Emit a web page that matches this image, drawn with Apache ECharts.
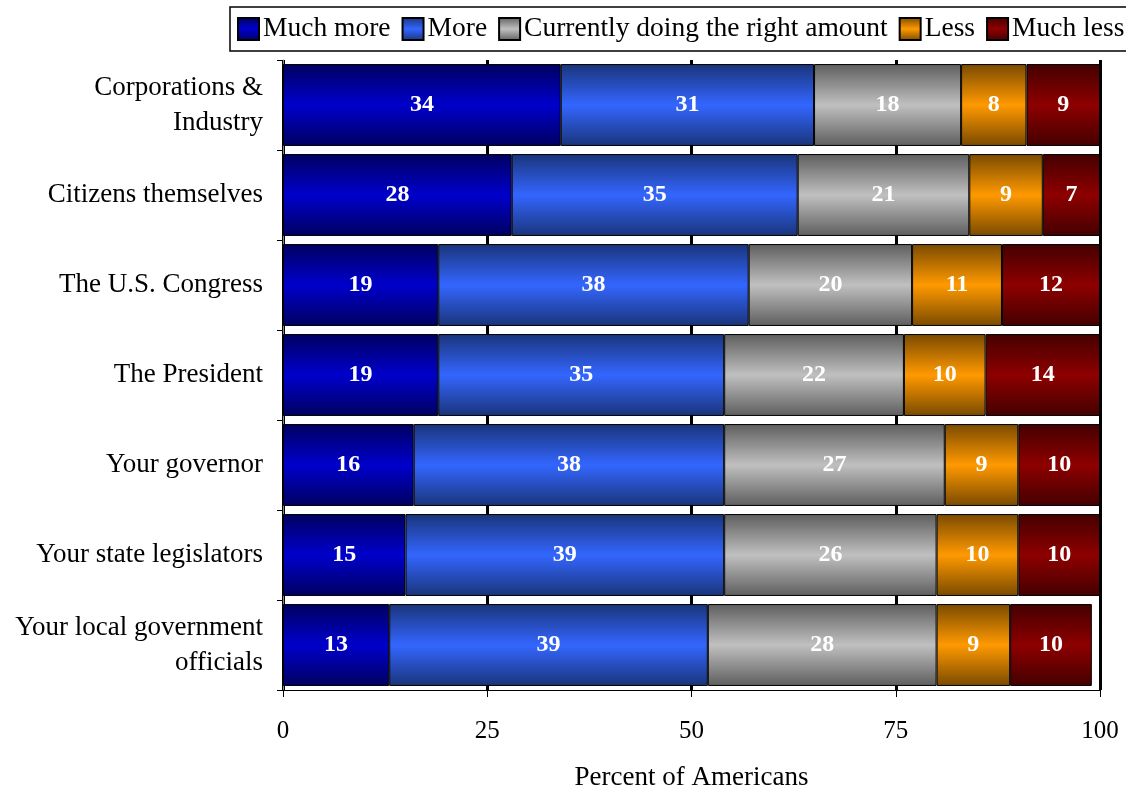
<!DOCTYPE html>
<html><head><meta charset="utf-8">
<script src="https://cdn.jsdelivr.net/npm/echarts@6/dist/echarts.min.js"></script>
<style>html,body{margin:0;padding:0;background:#fff}#c{width:1126px;height:791px}</style>
</head><body><div id="c"></div>
<script>
const categories = ['Corporations &\nIndustry','Citizens themselves','The U.S. Congress','The President','Your governor','Your state legislators','Your local government\nofficials'];
const seriesNames = ['Much more','More','Currently doing the right amount','Less','Much less'];
const muchMore = [34,28,19,19,16,15,13];
const more = [31,35,38,35,38,39,39];
const rightAmount = [18,21,20,22,27,26,28];
const less = [8,9,11,10,9,10,9];
const muchLess = [9,7,12,14,10,10,10];
const xTicks = [0,25,50,75,100];

const values = [muchMore, more, rightAmount, less, muchLess];
const palette = [
  ['#000060','#0000CC'],
  ['#1a347a','#3366FF'],
  ['#5e5e5e','#C0C0C0'],
  ['#7a4a00','#FF9900'],
  ['#440000','#8E0000']
];
const FONT = '"Liberation Serif", "DejaVu Serif", serif';
function grad(c){
  return new echarts.graphic.LinearGradient(0,0,0,1,[
    {offset:0,color:c[0]},{offset:0.5,color:c[1]},{offset:1,color:c[0]}]);
}
const chart = echarts.init(document.getElementById('c'));
chart.setOption({
  animation:false,
  textStyle:{fontFamily:FONT},
  legend:{
    left:230, top:7, width:1100,
    itemWidth:21, itemHeight:22, itemGap:11,
    padding:[8,7,8,7],
    borderColor:'#000', borderWidth:1.5,
    textStyle:{fontFamily:FONT, fontSize:27.5, color:'#000', padding:[0,0,0,-1]},
    icon:'rect',
    data:seriesNames
  },
  grid:{left:283, right:26, top:60, bottom:101, outerBoundsMode:'none', containLabel:false},
  xAxis:{
    type:'value', min:0, max:100, interval:25,
    axisLine:{show:true,lineStyle:{color:'#000',width:1}},
    axisTick:{show:true,length:7,lineStyle:{color:'#000'}},
    axisLabel:{fontFamily:FONT,fontSize:25,color:'#000',margin:29,
      formatter:v=>xTicks.includes(v)?String(v):''},
    splitLine:{show:true,lineStyle:{color:'#000',width:3}},
    name:'Percent of Americans', nameLocation:'middle', nameGap:74,
    nameTextStyle:{fontFamily:FONT,fontSize:27,color:'#000'}
  },
  yAxis:{
    type:'category', inverse:true, data:categories,
    axisLine:{show:true,lineStyle:{color:'#888'}},
    axisTick:{show:true,length:6,lineStyle:{color:'#000'}},
    axisLabel:{fontFamily:FONT,fontSize:27,color:'#000',margin:20,align:'right',lineHeight:35}
  },
  series: seriesNames.map((n,i)=>({
    name:n, type:'bar', stack:'total', data:values[i],
    barCategoryGap:'9%',
    itemStyle:{color:grad(palette[i]), borderColor:'#000', borderWidth:1},
    label:{show:true, position:'inside', color:'#fff', fontFamily:FONT, fontSize:24, fontWeight:'bold'}
  }))
});
</script></body></html>
